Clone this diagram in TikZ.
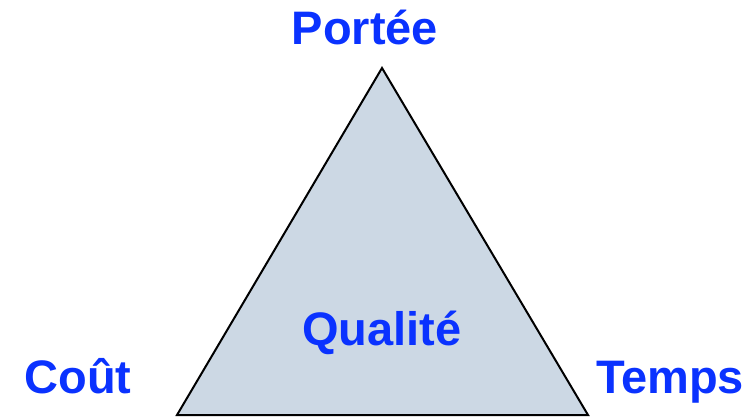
\documentclass[tikz,border=0pt]{standalone}
\usepackage{fontspec}
\setmainfont{Liberation Sans}
\definecolor{lblblue}{RGB}{10,50,255}
\definecolor{trifill}{RGB}{204,216,228}
\begin{document}
\begin{tikzpicture}[x=1pt,y=-1pt,
  lbl/.style={text=lblblue,font=\fontsize{47}{47}\selectfont\bfseries,inner sep=0pt,anchor=base}]
\useasboundingbox (0,0) rectangle (754,418);
\coordinate (top) at (382,68);
\coordinate (bl) at (177,415);
\coordinate (br) at (588,415);
\draw[fill=trifill,line width=2pt,line join=miter] (top) -- (br) -- (bl) -- cycle;
\node[lbl] (portee) at (365,44) {Portée};
\node[lbl] (qualite) at (382,345) {Qualité};
\node[lbl] (cout) at (78,393) {Coût};
\node[lbl] (temps) at (670,393) {Temps};
\end{tikzpicture}
\end{document}
